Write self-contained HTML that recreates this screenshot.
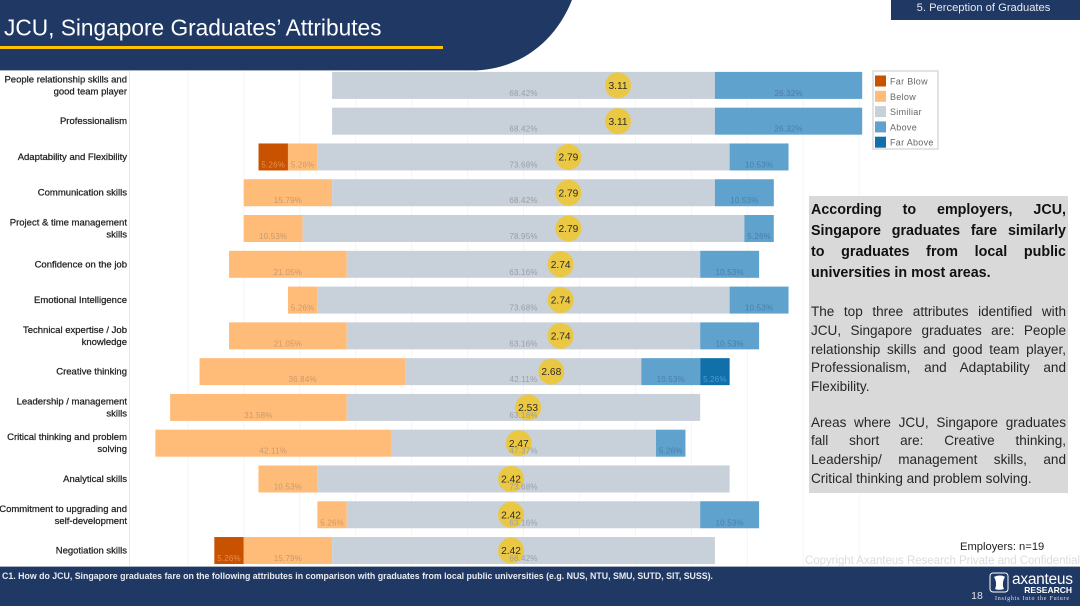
<!DOCTYPE html>
<html>
<head>
<meta charset="utf-8">
<title>JCU, Singapore Graduates' Attributes</title>
<style>
html,body{margin:0;padding:0;background:#fff;width:1080px;height:606px;overflow:hidden}
#stage{position:relative;width:1080px;height:606px;font-family:"Liberation Sans",sans-serif}
svg{position:absolute;left:0;top:0}
#panel{position:absolute;left:809px;top:196px;width:259px;height:297px;background:#d9d9d9;color:#262626;box-sizing:border-box;padding:3px 2px 0 2px}
#panel div{text-align:justify;text-align-last:justify;white-space:nowrap}
#panel .b{font-weight:bold;font-size:14.3px;line-height:21px;color:#111;position:relative;top:1px}
#panel .n{font-size:13.55px;line-height:18.75px}
#panel .l{text-align-last:left}
</style>
</head>
<body>
<div id="stage">
<svg id="chart" width="1080" height="606" viewBox="0 0 1080 606">
  <path d="M0,0H572C556,40 522,69 474,70.5H0Z" fill="#1f3864"/>
  <rect x="0" y="70" width="474" height="1" fill="#a9b3c2"/>
  <text x="4" y="35.5" font-size="22.7" fill="#fff">JCU, Singapore Graduates’ Attributes</text>
  <rect x="0" y="46" width="443" height="3" fill="#ffc000"/>
  <rect x="891" y="0" width="189" height="20" fill="#1f3864"/>
  <text x="983.5" y="11" font-size="11.2" fill="#e8ebf0" text-anchor="middle">5. Perception of Graduates</text>
  <g id="grid"></g>
  <rect x="129" y="71" width="1" height="495" fill="#e6e6e6"/>
  <g id="bars"></g>
  <g id="dots"></g>
  <g id="barLabels"></g>
  <g id="cats"></g>
  <g id="legend">
    <rect x="873" y="71" width="65" height="78" fill="#fff" stroke="#ddd" stroke-width="1.6"/>
  </g>
  <text x="960" y="550" font-size="11.2" fill="#222">Employers: n=19</text>
  <text x="805" y="564" font-size="11.5" fill="#dcdcdc" textLength="275">Copyright Axanteus Research Private and Confidential</text>
  <rect x="0" y="566" width="1080" height="40" fill="#1f3864"/>
  <rect x="0" y="566" width="1080" height="1" fill="#a9b3c2"/>
  <text x="2" y="579" font-size="8.8" font-weight="bold" fill="#e8ebf0" textLength="711">C1. How do JCU, Singapore graduates fare on the following attributes in comparison with graduates from local public universities (e.g. NUS, NTU, SMU, SUTD, SIT, SUSS).</text>
  <text x="977" y="599" font-size="10.5" fill="#dfe3ea" text-anchor="middle">18</text>
  <g>
    <rect x="990" y="573" width="18" height="19" rx="3" fill="none" stroke="#fff" stroke-width="1"/>
    <path d="M994,577c3,-2 9,-2 11,0c-2,3 -3,8 -1,12c-3,1 -7,1 -9,0c2,-4 1,-9 -1,-12Z" fill="#fff"/>
    <text x="1073" y="584" font-size="15.5" fill="#fff" text-anchor="end" textLength="61">axanteus</text>
    <text x="1072" y="593" font-size="8.5" font-weight="bold" fill="#fff" text-anchor="end">RESEARCH</text>
    <text x="995" y="600" font-size="6" fill="#dfe3ea" font-family="Liberation Serif, serif" textLength="74">Insights Into the Future</text>
  </g>
</svg>
<div id="panel">
  <div class="b">According to employers, JCU,</div>
  <div class="b">Singapore graduates fare similarly</div>
  <div class="b">to graduates from local public</div>
  <div class="b l">universities in most areas.</div>
  <div class="n l" style="height:20px">&nbsp;</div>
  <div class="n">The top three attributes identified with</div>
  <div class="n">JCU, Singapore graduates are: People</div>
  <div class="n">relationship skills and good team player,</div>
  <div class="n">Professionalism, and Adaptability and</div>
  <div class="n l">Flexibility.</div>
  <div class="n l" style="height:16.75px">&nbsp;</div>
  <div class="n">Areas where JCU, Singapore graduates</div>
  <div class="n">fall short are: Creative thinking,</div>
  <div class="n">Leadership/ management skills, and</div>
  <div class="n l">Critical thinking and problem solving.</div>
</div>
</div>
<script>
const categories = [
  "People relationship skills and|good team player",
  "Professionalism",
  "Adaptability and Flexibility",
  "Communication skills",
  "Project & time management|skills",
  "Confidence on the job",
  "Emotional Intelligence",
  "Technical expertise / Job|knowledge",
  "Creative thinking",
  "Leadership / management|skills",
  "Critical thinking and problem|solving",
  "Analytical skills",
  "Commitment to upgrading and|self-development",
  "Negotiation skills"
];
const farBelow = [0, 0, 5.26, 0, 0, 0, 0, 0, 0, 0, 0, 0, 0, 5.26];
const below    = [0, 0, 5.26, 15.79, 10.53, 21.05, 5.26, 21.05, 36.84, 31.58, 42.11, 10.53, 5.26, 15.79];
const similar  = [68.42, 68.42, 73.68, 68.42, 78.95, 63.16, 73.68, 63.16, 42.11, 63.16, 47.37, 73.68, 63.16, 68.42];
const above    = [26.32, 26.32, 10.53, 10.53, 5.26, 10.53, 10.53, 10.53, 10.53, 0, 5.26, 0, 10.53, 0];
const farAbove = [0, 0, 0, 0, 0, 0, 0, 0, 5.26, 0, 0, 0, 0, 0];
const means    = [3.11, 3.11, 2.79, 2.79, 2.79, 2.74, 2.74, 2.74, 2.68, 2.53, 2.47, 2.42, 2.42, 2.42];
const gridTicks = [-60, -50, -40, -30, -20, -10, 0, 10, 20, 30, 40, 50, 60];
const legendLabels = ["Far Blow", "Below", "Similiar", "Above", "Far Above"];
const legendColors = ["#c85200", "#ffbc79", "#c8d0d9", "#5fa2ce", "#1170aa"];
const labelColors = ["#e88e4e", "#c79a6c", "#989ea6", "#4a7ea6", "#4f9bd0"];

const NS = "http://www.w3.org/2000/svg";
function xPct(v){ return 523.5 + v * 5.595; }
function xMean(v){ return 618 + (v - 3.11) * 155; }
function yRow(i){ return 85.4 + i * 35.78; }
function make(tag, parent){ const el = document.createElementNS(NS, tag); parent.appendChild(el); return el; }

const gridG = document.getElementById("grid");
gridTicks.forEach(function(t){
  const ln = make("line", gridG);
  
  
  ln.setAttribute("x1", xPct(t)); ln.setAttribute("x2", xPct(t));
  ln.setAttribute("y1", 71); ln.setAttribute("y2", 566);
  ln.setAttribute("stroke", "#f5f5f5"); ln.setAttribute("stroke-width", 1);
});

const barsG = document.getElementById("bars");
const dotsG = document.getElementById("dots");
const labelsG = document.getElementById("barLabels");
const catsG = document.getElementById("cats");

function drawSeg(start, val, series, y){
  if(!val) return;
  const r = make("rect", barsG);
  
  
  r.setAttribute("x", xPct(start));
  r.setAttribute("width", xPct(start + val) - xPct(start));
  r.setAttribute("y", y - 13.5);
  r.setAttribute("height", 27);
  r.setAttribute("fill", legendColors[series]);
  const t = make("text", labelsG);
  
  
  t.setAttribute("x", xPct(start + val / 2));
  t.setAttribute("y", y + 10.5);
  t.setAttribute("font-size", 8);
  t.setAttribute("letter-spacing", "0.2");
  t.setAttribute("text-anchor", "middle");
  t.setAttribute("fill", labelColors[series]);
  t.textContent = val.toFixed(2) + "%";
}

categories.forEach(function(c, i){
  const y = yRow(i);
  const lo = -similar[i] / 2;
  drawSeg(lo - below[i] - farBelow[i], farBelow[i], 0, y);
  drawSeg(lo - below[i], below[i], 1, y);
  drawSeg(lo, similar[i], 2, y);
  drawSeg(-lo, above[i], 3, y);
  drawSeg(-lo + above[i], farAbove[i], 4, y);

  const d = make("circle", dotsG);
  
  
  d.setAttribute("cx", xMean(means[i]));
  d.setAttribute("cy", y);
  d.setAttribute("r", 13);
  d.setAttribute("fill", "#ebc844");
  const mt = make("text", dotsG);
  
  
  mt.setAttribute("x", xMean(means[i]));
  mt.setAttribute("y", y + 3.6);
  mt.setAttribute("font-size", 10.2);
  mt.setAttribute("text-anchor", "middle");
  mt.setAttribute("fill", "#2b2b2b");
  mt.textContent = means[i].toFixed(2);

  const lines = c.split("|");
  lines.forEach(function(line, k){
    const t = make("text", catsG);
    
    
    t.setAttribute("x", 127);
    t.setAttribute("y", y + 3 + (k - (lines.length - 1) / 2) * 12);
    t.setAttribute("font-size", 9.5);
    t.setAttribute("text-anchor", "end");
    t.setAttribute("fill", "#222");
    t.setAttribute("stroke", "#222");
    t.setAttribute("stroke-width", "0.25");
    t.textContent = line;
  });
});

const legendG = document.getElementById("legend");
legendLabels.forEach(function(name, i){
  const s = make("rect", legendG);
  
  
  s.setAttribute("x", 875);
  s.setAttribute("y", 75.5 + i * 15.3);
  s.setAttribute("width", 11);
  s.setAttribute("height", 11);
  s.setAttribute("fill", legendColors[i]);
  const t = make("text", legendG);
  
  
  t.setAttribute("x", 890);
  t.setAttribute("y", 84.5 + i * 15.3);
  t.setAttribute("font-size", 9);
  t.setAttribute("letter-spacing", "0.3");
  t.setAttribute("fill", "#666");
  t.textContent = name;
});
</script>
</body>
</html>
